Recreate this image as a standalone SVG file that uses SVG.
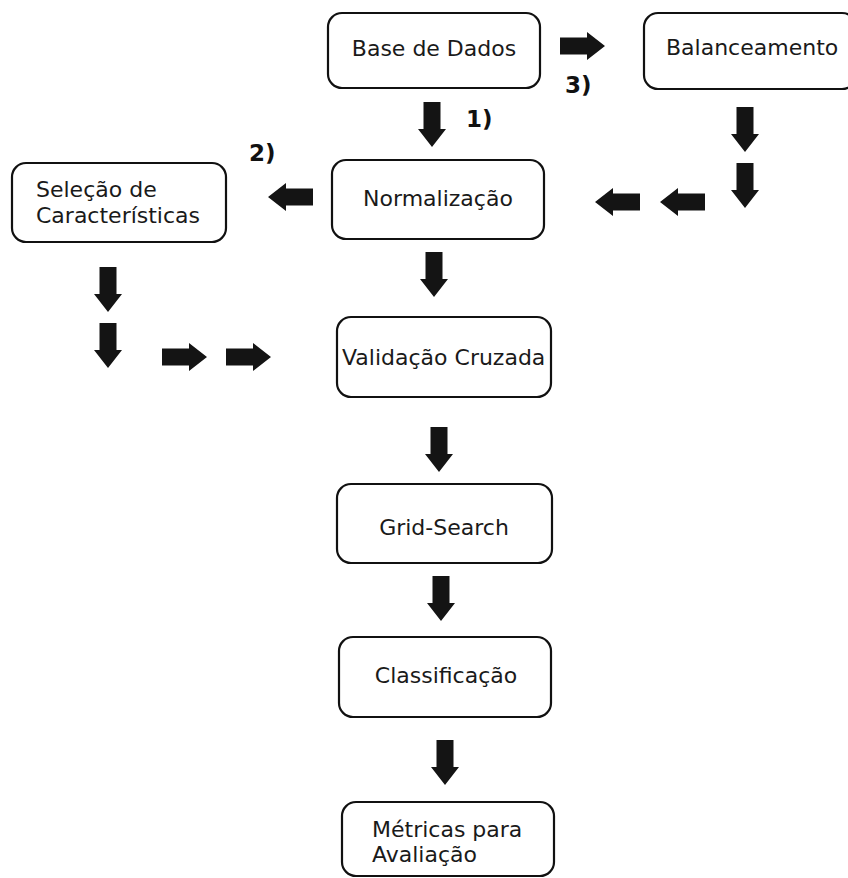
<svg xmlns="http://www.w3.org/2000/svg" width="848" height="878" viewBox="0 0 848 878">
<style>
.box{fill:#fff;stroke:#111;stroke-width:2.2}
.t{font-family:"DejaVu Sans",Verdana,sans-serif;font-size:22px;fill:#1a1a1a}
.lbl{font-family:"DejaVu Sans",Verdana,sans-serif;font-size:23px;font-weight:bold;fill:#111}
.arr{fill:#141414}
</style>
<defs>
<path id="ad" d="M-8.5,-45 H8.5 V-18 H14 L0,0 L-14,-18 H-8.5 Z"/>
</defs>
<rect width="848" height="878" fill="#fff"/>
<g id="connectors" class="arr">
<use href="#ad" transform="translate(432,147)"/>
<use href="#ad" transform="translate(745,152)"/>
<use href="#ad" transform="translate(745,208)"/>
<use href="#ad" transform="translate(434,297)"/>
<use href="#ad" transform="translate(108,312)"/>
<use href="#ad" transform="translate(108,368)"/>
<use href="#ad" transform="translate(439,472)"/>
<use href="#ad" transform="translate(441,621)"/>
<use href="#ad" transform="translate(445,785)"/>
<use href="#ad" transform="translate(605,46) rotate(-90)"/>
<use href="#ad" transform="translate(207,357) rotate(-90)"/>
<use href="#ad" transform="translate(271,357) rotate(-90)"/>
<use href="#ad" transform="translate(268,197) rotate(90)"/>
<use href="#ad" transform="translate(595,202) rotate(90)"/>
<use href="#ad" transform="translate(660,202) rotate(90)"/>
</g>
<g id="labels">
<text class="lbl" x="466" y="127">1)</text>
<text class="lbl" x="249" y="161">2)</text>
<text class="lbl" x="565" y="93">3)</text>
</g>
<g id="base">
<rect class="box" x="328" y="13" width="212" height="75" rx="14"/>
<text class="t" x="434" y="56" text-anchor="middle">Base de Dados</text>
</g>
<g id="balanceamento">
<rect class="box" x="644" y="13" width="212" height="76" rx="14"/>
<text class="t" x="666" y="55">Balanceamento</text>
</g>
<g id="normalizacao">
<rect class="box" x="332" y="160" width="212" height="79" rx="14"/>
<text class="t" x="438" y="206" text-anchor="middle">Normalização</text>
</g>
<g id="selecao">
<rect class="box" x="12" y="163" width="214" height="79" rx="14"/>
<text class="t" x="36" y="197">Seleção de</text>
<text class="t" x="36" y="223">Características</text>
</g>
<g id="validacao">
<rect class="box" x="337" y="317" width="214" height="80" rx="14"/>
<text class="t" x="342" y="365">Validação Cruzada</text>
</g>
<g id="gridsearch">
<rect class="box" x="337" y="484" width="215" height="79" rx="14"/>
<text class="t" x="444" y="535" text-anchor="middle">Grid-Search</text>
</g>
<g id="classificacao">
<rect class="box" x="339" y="637" width="212" height="80" rx="14"/>
<text class="t" x="446" y="683" text-anchor="middle">Classificação</text>
</g>
<g id="metricas">
<rect class="box" x="342" y="802" width="212" height="74" rx="14"/>
<text class="t" x="372" y="837">Métricas para</text>
<text class="t" x="372" y="862">Avaliação</text>
</g>
</svg>
